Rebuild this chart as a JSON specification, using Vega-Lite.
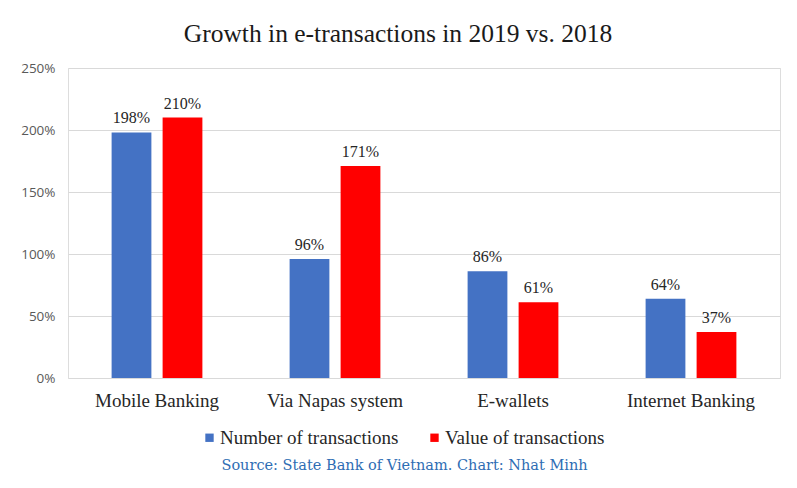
{
  "$schema": "https://vega.github.io/schema/vega-lite/v6.json",
  "width": 712,
  "height": 310,
  "autosize": {"type": "none"},
  "padding": {"left": 68, "top": 68, "right": 17, "bottom": 110},
  "background": "white",
  "title": {
    "text": "Growth in e-transactions in 2019 vs. 2018",
    "font": "Liberation Serif",
    "fontSize": 25.5,
    "fontWeight": "normal",
    "color": "#1a1a1a",
    "anchor": "middle",
    "dx": -26,
    "offset": 14
  },
  "data": {
    "values": [
      {"channel": "Mobile Banking", "series": "Number of transactions", "growth": 1.98},
      {"channel": "Mobile Banking", "series": "Value of transactions", "growth": 2.10},
      {"channel": "Via Napas system", "series": "Number of transactions", "growth": 0.96},
      {"channel": "Via Napas system", "series": "Value of transactions", "growth": 1.71},
      {"channel": "E-wallets", "series": "Number of transactions", "growth": 0.86},
      {"channel": "E-wallets", "series": "Value of transactions", "growth": 0.61},
      {"channel": "Internet Banking", "series": "Number of transactions", "growth": 0.64},
      {"channel": "Internet Banking", "series": "Value of transactions", "growth": 0.37}
    ]
  },
  "encoding": {
    "x": {
      "field": "channel",
      "type": "nominal",
      "sort": ["Mobile Banking", "Via Napas system", "E-wallets", "Internet Banking"],
      "scale": {"paddingInner": 0.49, "paddingOuter": 0.245},
      "axis": {
        "title": "Source: State Bank of Vietnam. Chart: Nhat Minh",
        "titleFont": "DejaVu Serif",
        "titleFontSize": 14.5,
        "titleFontWeight": "normal",
        "titleColor": "#2E6DB4",
        "titleX": 336,
        "titleY": 80,
        "labelAngle": 0,
        "labelFont": "Liberation Serif",
        "labelFontSize": 19,
        "labelColor": "#262626",
        "labelPadding": 13,
        "ticks": false,
        "domain": false,
        "grid": false
      }
    },
    "xOffset": {
      "field": "series",
      "type": "nominal",
      "sort": ["Number of transactions", "Value of transactions"],
      "scale": {"paddingInner": 0.22}
    },
    "y": {
      "field": "growth",
      "type": "quantitative",
      "scale": {"domain": [0, 2.5]},
      "axis": {
        "title": null,
        "values": [0, 0.5, 1, 1.5, 2, 2.5],
        "format": ".0%",
        "labelFont": "Open Sans",
        "labelFontSize": 13.5,
        "labelColor": "#595959",
        "labelPadding": 13,
        "ticks": false,
        "domain": false,
        "grid": true,
        "gridColor": "#d9d9d9",
        "gridWidth": 1
      }
    }
  },
  "layer": [
    {
      "mark": {"type": "bar"},
      "encoding": {
        "color": {
          "field": "series",
          "type": "nominal",
          "sort": ["Number of transactions", "Value of transactions"],
          "scale": {"range": ["#4472C4", "#FF0000"]},
          "legend": {
            "title": null,
            "orient": "none",
            "legendX": 132,
            "legendY": 360,
            "direction": "horizontal",
            "symbolType": "square",
            "symbolSize": 70,
            "symbolStrokeWidth": 0,
            "labelFont": "Liberation Serif",
            "labelFontSize": 19,
            "labelColor": "#262626",
            "labelLimit": 400,
            "columnPadding": 26,
            "labelOffset": 1
          }
        }
      }
    },
    {
      "mark": {
        "type": "text",
        "baseline": "bottom",
        "dy": -6,
        "font": "Liberation Serif",
        "fontSize": 16,
        "color": "#262626"
      },
      "encoding": {
        "text": {"field": "growth", "type": "quantitative", "format": ".0%"}
      }
    }
  ]
}
